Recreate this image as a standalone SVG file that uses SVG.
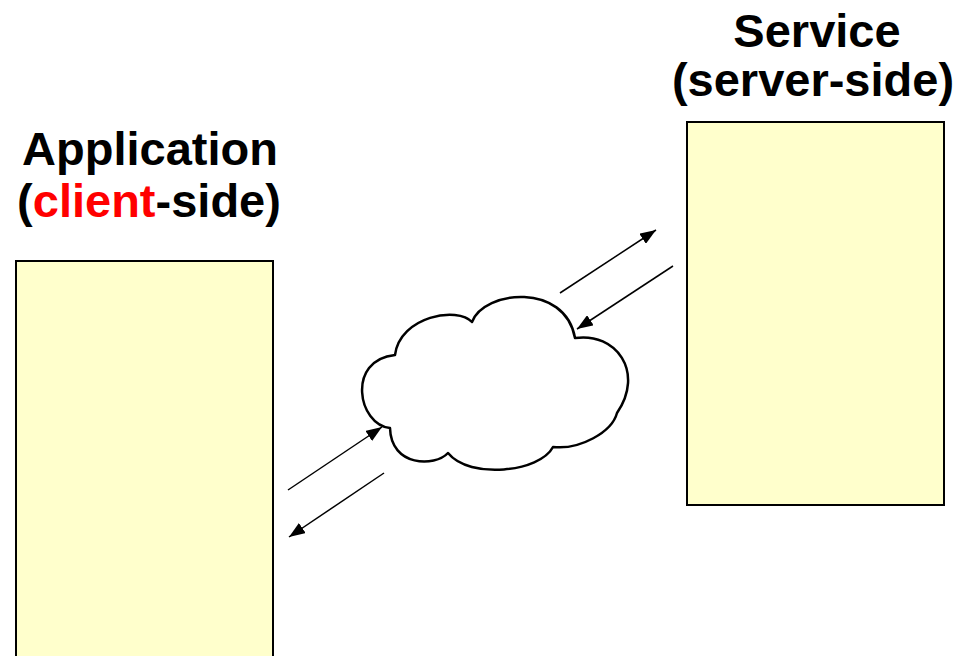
<svg xmlns="http://www.w3.org/2000/svg" width="968" height="656" viewBox="0 0 968 656">
<defs>
<style>
.box{fill:#FFFFCC;stroke:#000;stroke-width:2}
.t{font-family:"Liberation Sans",Arial,sans-serif;font-weight:bold;font-size:47px;fill:#000;text-anchor:middle}
.red{fill:#FF0000}
.conn{stroke:#000;stroke-width:1.5;fill:none;marker-end:url(#ah)}
.cloud{fill:#fff;stroke:#000;stroke-width:2.5;stroke-linejoin:round}
</style>
<marker id="ah" viewBox="0 0 10 10" refX="10" refY="5" markerWidth="16" markerHeight="12" markerUnits="userSpaceOnUse" orient="auto" preserveAspectRatio="none">
<path d="M0,0 L10,5 L0,10 Z" fill="#000"/>
</marker>
</defs>
<rect width="968" height="656" fill="#fff"/>
<g id="application">
<rect class="box" x="16" y="261" width="257" height="420"/>
<text class="t" x="150" y="165">Application</text>
<text class="t" x="149" y="217">(<tspan class="red">client</tspan>-side)</text>
</g>
<g id="service">
<rect class="box" x="687" y="122" width="257" height="383"/>
<text class="t" x="817" y="47">Service</text>
<text class="t" x="813" y="96">(server-side)</text>
</g>
<g id="cloud">
<path class="cloud" d="M472,322 C484,290 565,282 575,338 C616,332 645,372 617,413 C612,432 580,450 553,447 C540,472 470,480 448,453 C435,467 391,467 390,428 C358,425 346,360 395,355 C400,316 458,306 472,322 Z"/>
</g>
<g id="connectors">
<line class="conn" x1="288" y1="490" x2="382" y2="427"/>
<line class="conn" x1="384" y1="473" x2="289" y2="537"/>
<line class="conn" x1="560" y1="293" x2="656" y2="230"/>
<line class="conn" x1="673" y1="266" x2="577" y2="329"/>
</g>
</svg>
